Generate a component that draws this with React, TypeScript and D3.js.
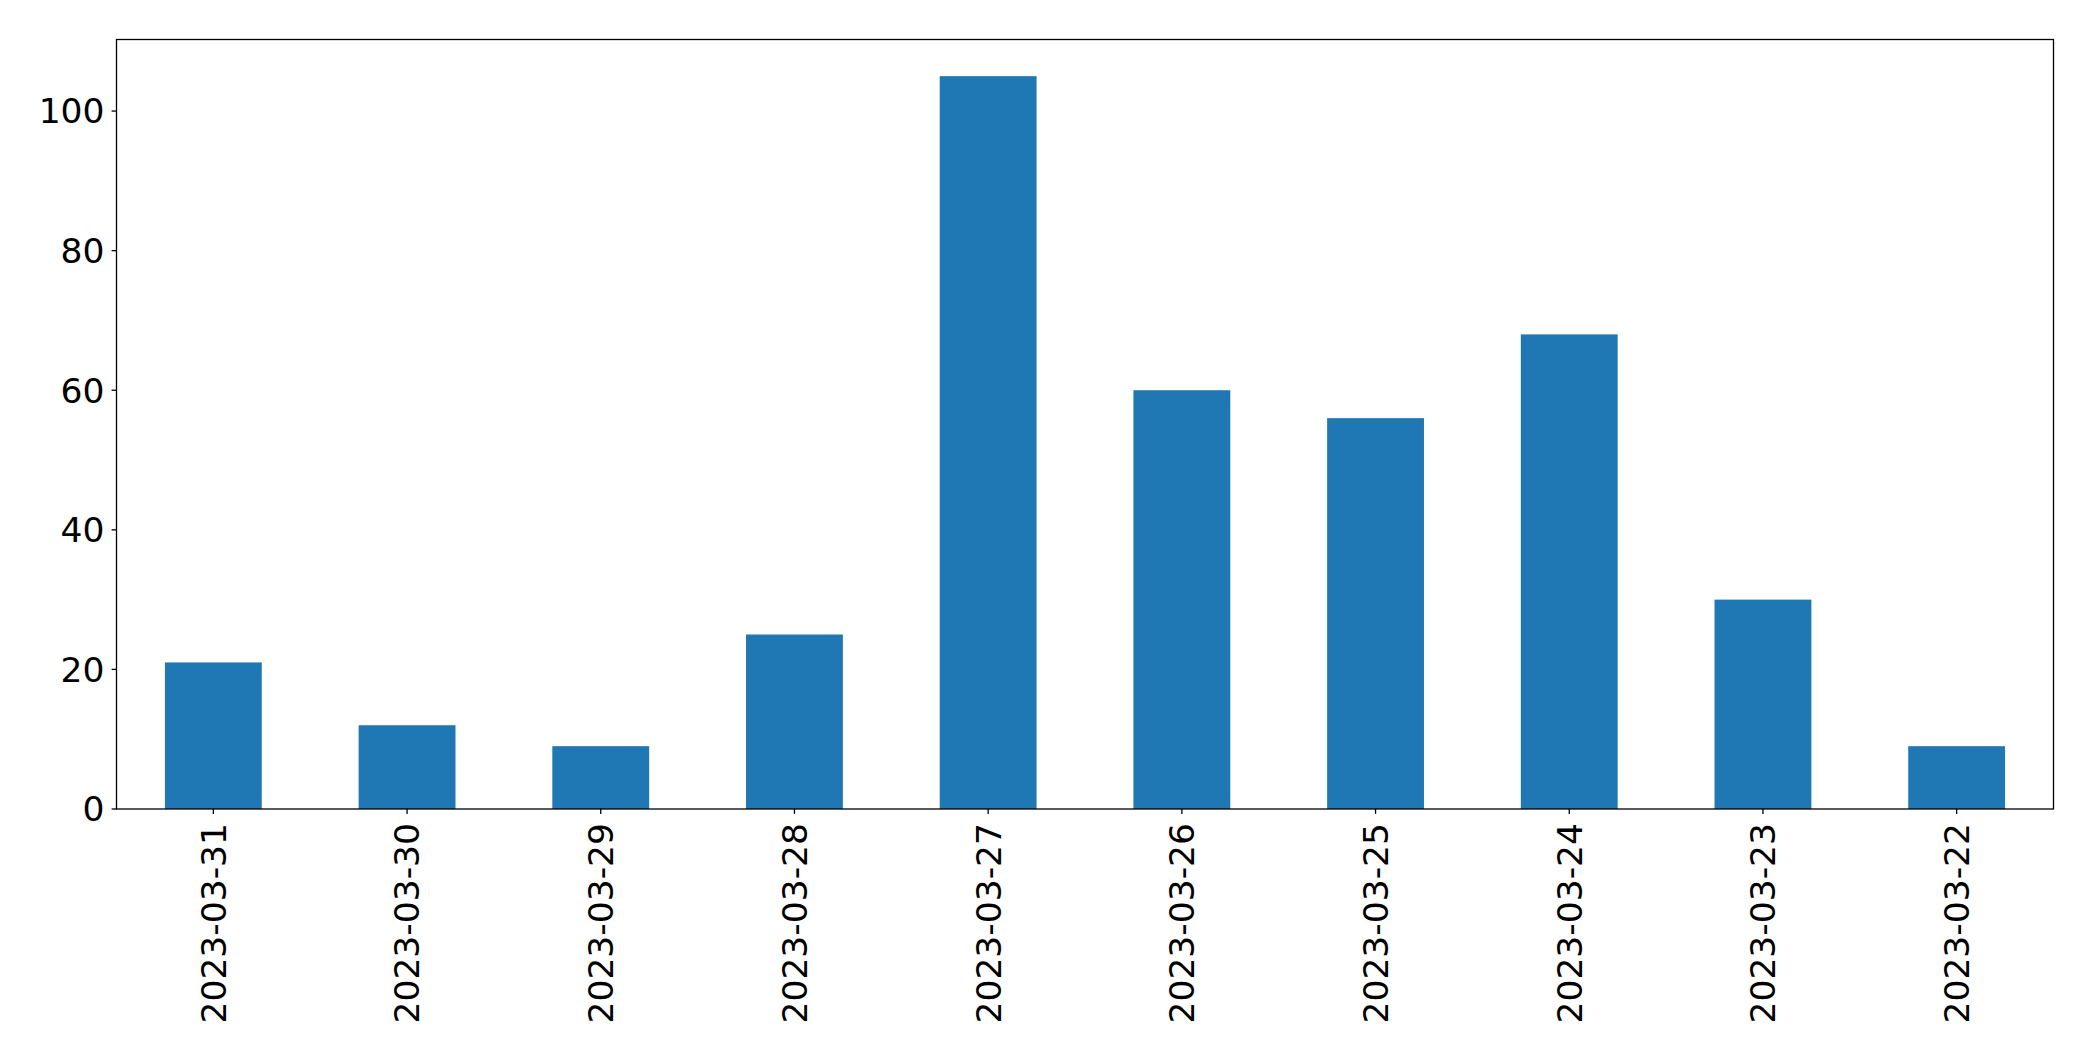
import React from "react";
import * as d3 from "d3";

const categories: string[] = [
  "2023-03-31", "2023-03-30", "2023-03-29", "2023-03-28", "2023-03-27",
  "2023-03-26", "2023-03-25", "2023-03-24", "2023-03-23", "2023-03-22",
];
const values: number[] = [21, 12, 9, 25, 105, 60, 56, 68, 30, 9];
const yTicks: number[] = [0, 20, 40, 60, 80, 100];

const W = 2093;
const H = 1061;
const M = { left: 116.5, top: 39.5, right: 2053.5, bottom: 809 };
const FONT = "'DejaVu Sans', sans-serif";
const FS = 34.5;

export default function App() {
  const x = d3
    .scaleBand<string>()
    .domain(categories)
    .range([M.left, M.right])
    .paddingInner(0.5)
    .paddingOuter(0.25);
  const yMax = d3.max(values)! * 1.05;
  const y = d3.scaleLinear().domain([0, yMax]).range([M.bottom, M.top]);

  return (
    <svg
      width={W}
      height={H}
      style={{ position: "absolute", left: 0, top: 0, background: "#fff" }}
      fontFamily={FONT}
    >
      <rect x={0} y={0} width={W} height={H} fill="#fff" />
      {categories.map((c, i) => (
        <rect
          key={c}
          x={x(c)}
          y={y(values[i])}
          width={x.bandwidth()}
          height={y(0) - y(values[i])}
          fill="#1f77b4"
        />
      ))}
      <rect
        x={M.left}
        y={M.top}
        width={M.right - M.left}
        height={M.bottom - M.top}
        fill="none"
        stroke="#000"
        strokeWidth={1.3}
      />
      {yTicks.map((t) => (
        <g key={t} transform={`translate(0,${y(t)})`}>
          <line x1={M.left - 4.9} x2={M.left} stroke="#000" strokeWidth={1.3} />
          <text
            x={M.left - 12}
            dy="0.36em"
            textAnchor="end"
            fontSize={FS}
            fill="#000"
          >
            {t}
          </text>
        </g>
      ))}
      {categories.map((c) => {
        const cx = x(c)! + x.bandwidth() / 2;
        return (
          <g key={c} transform={`translate(${cx},${M.bottom})`}>
            <line y1={0} y2={4.9} stroke="#000" strokeWidth={1.3} />
            <text
              transform="translate(0,14) rotate(-90)"
              textAnchor="end"
              dy="0.36em"
              fontSize={FS}
              fill="#000"
            >
              {c}
            </text>
          </g>
        );
      })}
    </svg>
  );
}
